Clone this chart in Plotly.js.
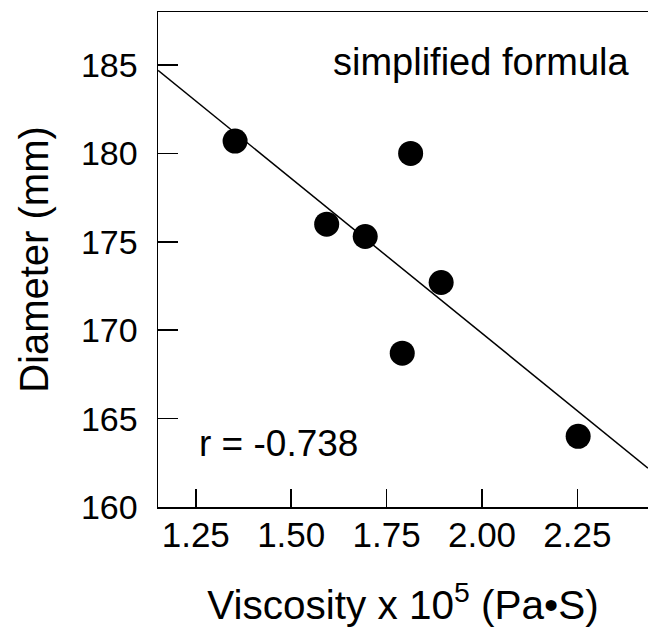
<!DOCTYPE html>
<html>
<head>
<meta charset="utf-8">
<script src="https://cdn.plot.ly/plotly-3.0.1.min.js"></script>
<style>html,body{margin:0;padding:0;background:#fff;}</style>
</head>
<body>
<div id="chart" style="width:648px;height:640px;"></div>
<script>
// Observed points (viscosity x 10^5 Pa·S, diameter mm)
var viscosity = [1.353, 1.813, 1.593, 1.694, 1.893, 1.791, 2.252];
var diameter  = [180.7, 180.0, 176.0, 175.3, 172.7, 168.7, 164.0];
// Regression line end points
var fitX = [1.151, 2.435];
var fitY = [184.7, 162.2];
var xTicks = [1.25, 1.50, 1.75, 2.00, 2.25];
var xTickText = ["1.25", "1.50", "1.75", "2.00", "2.25"];
var yTicks = [160, 165, 170, 175, 180, 185];
var labelFormula = "simplified formula";
var labelR = "r = -0.738";

var font = "Liberation Sans, Arial, Helvetica, sans-serif";

var traces = [
  {x: fitX, y: fitY, mode: "lines", type: "scatter",
   line: {color: "#000", width: 1.5}, hoverinfo: "skip"},
  {x: viscosity, y: diameter, mode: "markers", type: "scatter",
   marker: {color: "#000", size: 25, line: {width: 0}}}
];

var layout = {
  width: 648, height: 640,
  margin: {l: 158, r: 0, t: 12, b: 133},
  paper_bgcolor: "#fff", plot_bgcolor: "#fff",
  showlegend: false,
  font: {family: font, color: "#000"},
  xaxis: {
    range: [1.151, 2.435],
    tickvals: xTicks, ticktext: xTickText,
    ticks: "inside", ticklen: 18, tickwidth: 1.5, tickcolor: "#000",
    showline: true, linecolor: "#000", linewidth: 1.5, mirror: true,
    showgrid: false, zeroline: false,
    tickfont: {size: 35, family: font, color: "#000"},
    ticklabelstandoff: -4,
    title: {text: "Viscosity x 10<sup>5</sup> (Pa•S)", font: {size: 40.5, family: font, color: "#000"}, standoff: 38}
  },
  yaxis: {
    range: [160, 188],
    tickvals: yTicks,
    ticks: "inside", ticklen: 20, tickwidth: 1.5, tickcolor: "#000",
    showline: true, linecolor: "#000", linewidth: 1.5, mirror: false,
    showgrid: false, zeroline: false,
    tickfont: {size: 34, family: font, color: "#000"},
    ticklabelstandoff: 12,
    title: {text: "Diameter (mm)", font: {size: 40, family: font, color: "#000"}, standoff: 20}
  },
  annotations: [
    {text: labelFormula, xref: "paper", yref: "paper", x: 0.353, y: 0.899,
     xanchor: "left", yanchor: "middle", showarrow: false,
     font: {size: 38, family: font, color: "#000"}},
    {text: labelR, xref: "paper", yref: "paper", x: 0.08, y: 0.129,
     xanchor: "left", yanchor: "middle", showarrow: false,
     font: {size: 37, family: font, color: "#000"}}
  ]
};

Plotly.newPlot("chart", traces, layout, {displayModeBar: false, staticPlot: true});
</script>
</body>
</html>
